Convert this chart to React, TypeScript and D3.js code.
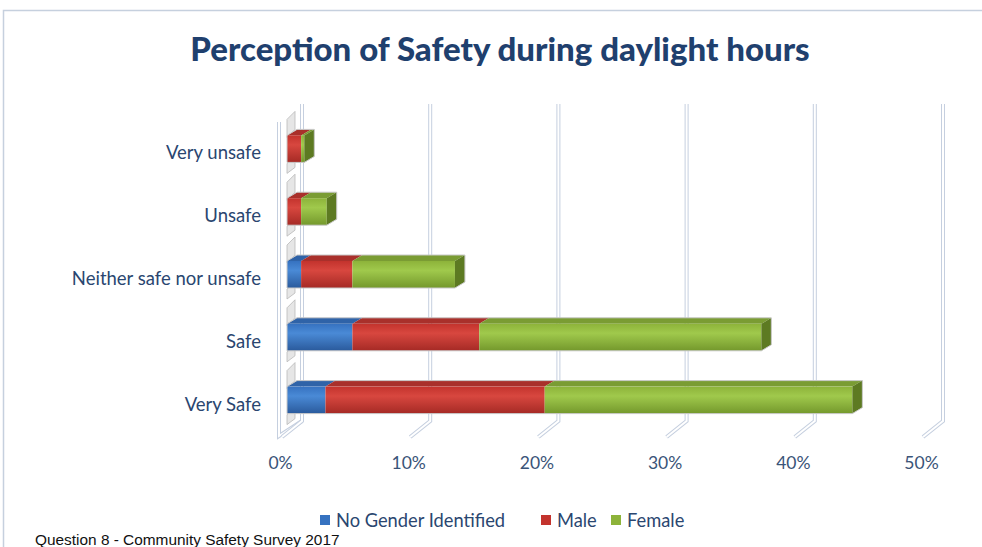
import React from 'react';
import * as d3 from 'd3';

const categories = ['Very unsafe', 'Unsafe', 'Neither safe nor unsafe', 'Safe', 'Very Safe'];
const noGender = [0, 0, 1.1, 5.1, 3.0];
const male = [1.1, 1.1, 4.0, 9.9, 17.1];
const female = [0.25, 2.0, 8.0, 22.0, 24.0];
const ticks = [0, 10, 20, 30, 40, 50];
const seriesNames = ['No Gender Identified', 'Male', 'Female'];

const W = 982;
const H = 547;
const DX = 10;
const DY = -6;
const WALL = 15;

const colors = [
  { light: '#4a8ad6', mid: '#3672c0', dark: '#2a5a9c', top: '#2f63a8', side: '#234d86' },
  { light: '#d8473f', mid: '#c3332d', dark: '#a52a25', top: '#a9302b', side: '#8a2320' },
  { light: '#a0c94c', mid: '#8db33a', dark: '#74982c', top: '#7a9c33', side: '#5d7a22' },
];

const App = () => {
  const x = d3.scaleLinear().domain([0, 50]).range([287, 928]);
  const y = d3.scaleBand().domain(categories).range([122, 436]).padding(0);
  const series = [noGender, male, female];
  const stacked = categories.map((c, i) => {
    let acc = 0;
    return series.map((s, k) => {
      const seg = { k, x0: acc, x1: acc + s[i] };
      acc += s[i];
      return seg;
    });
  });

  const wallTop = 104;
  const wallBottom = 421;
  const font = 'Lato, sans-serif';

  return (
    <svg width={W} height={H} style={{ position: 'absolute', left: 0, top: 0, background: '#fff' }}>
      <defs>
        {colors.map((c, k) => (
          <linearGradient key={k} id={`g${k}`} x1="0" y1="0" x2="0" y2="1">
            <stop offset="0" stopColor={c.mid} />
            <stop offset="0.35" stopColor={c.light} />
            <stop offset="1" stopColor={c.dark} />
          </linearGradient>
        ))}
      </defs>
      <rect x={3.5} y={10.5} width={W + 10} height={H} fill="none" stroke="#c6d0de" strokeWidth={1.5} />

      <text x={500} y={61} textAnchor="middle" fontFamily={font} fontWeight="900"
        fontSize={33} fill="#1f406e">Perception of Safety during daylight hours</text>

      {/* left side wall */}
      <path d={`M${x(0) - 8},${wallTop + 18} V${wallBottom + 15} L${x(0) + WALL},${wallBottom}`}
        fill="none" stroke="#c5cfdf" strokeWidth={4} />
      <path d={`M${x(0) - 8},${wallTop + 18} V${wallBottom + 15} L${x(0) + WALL},${wallBottom}`}
        fill="none" stroke="#fff" strokeWidth={2} />
      {categories.map((c) => {
        const cy = (y(c) as number) + y.bandwidth() / 2;
        const top = cy - 42;
        return (
          <g key={c}>
            <path d={`M${x(0)},${top + 8} L${x(0) + 8},${top} V${top + 18} L${x(0)},${top + 26} Z`}
              fill="#e6e6e6" stroke="#b9b9b9" strokeWidth={0.8} />
            <path d={`M${x(0)},${cy + 10} L${x(0) + 8},${cy + 4} V${cy + 14} L${x(0)},${cy + 20} Z`}
              fill="#e6e6e6" stroke="#b9b9b9" strokeWidth={0.8} />
          </g>
        );
      })}

      {/* back wall gridlines and floor */}
      {ticks.map((t) => {
        const bx = x(t) + WALL;
        const d = `M${bx},${wallTop} V${wallBottom} L${bx - 20},${wallBottom + 16}`;
        return (
          <g key={t}>
            <path d={d} fill="none" stroke="#c5cfdf" strokeWidth={4} />
            <path d={d} fill="none" stroke="#fff" strokeWidth={2} />
          </g>
        );
      })}

      {/* bars */}
      {categories.map((c, i) => {
        const cy = (y(c) as number) + y.bandwidth() / 2;
        const fy = cy - 18;
        const fh = 27;
        const segs = stacked[i].filter((s) => s.x1 - s.x0 > 0);
        const last = segs[segs.length - 1];
        return (
          <g key={c}>
            {segs.map((s) => {
              const x0 = x(s.x0);
              const x1 = x(s.x1);
              return (
                <g key={s.k}>
                  <path d={`M${x0},${fy} L${x0 + DX},${fy + DY} L${x1 + DX},${fy + DY} L${x1},${fy} Z`}
                    fill={colors[s.k].top} />
                  <rect x={x0} y={fy} width={x1 - x0} height={fh} fill={`url(#g${s.k})`} />
                </g>
              );
            })}
            <path d={`M${x(last.x1)},${fy} L${x(last.x1) + DX},${fy + DY} V${fy + DY + fh} L${x(last.x1)},${fy + fh} Z`}
              fill={colors[last.k].side} />
            <path d={`M${x(0)},${fy} L${x(0) + DX},${fy + DY} L${x(last.x1) + DX},${fy + DY} V${fy + DY + fh} L${x(last.x1)},${fy + fh} H${x(0)} Z`}
              fill="none" stroke="#c9c9c9" strokeWidth={1} />
            <text x={261} y={cy + 6} textAnchor="end" fontFamily={font} fontSize={18.5} fill="#2a4670">{c}</text>
          </g>
        );
      })}

      {/* x ticks */}
      {ticks.map((t) => (
        <text key={t} x={x(t) - 6.5} y={469} textAnchor="middle" fontFamily={font} fontSize={17.5}
          fill="#3a5478">{`${t}%`}</text>
      ))}

      {/* legend */}
      {seriesNames.map((n, k) => {
        const lx = [320, 541, 611][k];
        return (
          <g key={n}>
            <rect x={lx} y={515} width={10} height={10} fill={colors[k].mid} />
            <text x={lx + 16} y={527} fontFamily={font} fontSize={18.3} fill="#2a4670">{n}</text>
          </g>
        );
      })}

      <text x={35} y={545} fontFamily="'Liberation Sans', Arial, sans-serif" fontSize={15.4} fill="#111">
        Question 8 - Community Safety Survey 2017
      </text>
    </svg>
  );
};

export default App;
